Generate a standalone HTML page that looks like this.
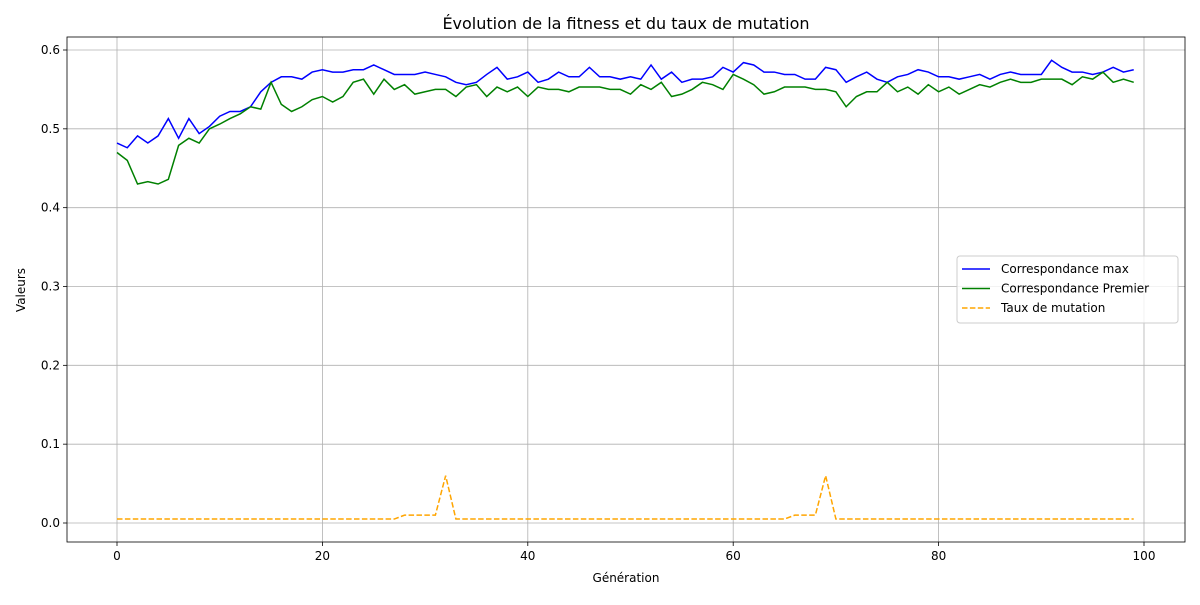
<!DOCTYPE html>
<html><head><meta charset="utf-8"><style>
body{margin:0;background:#fff;font-family:"Liberation Sans","DejaVu Sans",sans-serif}
</style></head><body>
<svg id="chart" width="1200" height="600" xmlns="http://www.w3.org/2000/svg" font-family="DejaVu Sans, Liberation Sans, sans-serif"></svg>
<script>
const generations = Array.from({length:100},(_,i)=>i);
const maxFit = [.482,.476,.491,.482,.491,.513,.488,.513,.494,.503,.516,.522,.522,.528,.547,.559,.566,.566,.563,.572,.575,.572,.572,.575,.575,.581,.575,.569,.569,.569,.572,.569,.566,.559,.556,.559,.569,.578,.563,.566,.572,.559,.563,.572,.566,.566,.578,.566,.566,.563,.566,.563,.581,.563,.572,.559,.563,.563,.566,.578,.572,.584,.581,.572,.572,.569,.569,.563,.563,.578,.575,.559,.566,.572,.563,.559,.566,.569,.575,.572,.566,.566,.563,.566,.569,.563,.569,.572,.569,.569,.569,.587,.578,.572,.572,.569,.572,.578,.572,.575];
const firstFit = [.470,.460,.430,.433,.430,.436,.479,.488,.482,.500,.506,.513,.519,.528,.525,.559,.531,.522,.528,.537,.541,.534,.541,.559,.563,.544,.563,.550,.556,.544,.547,.550,.550,.541,.553,.556,.541,.553,.547,.553,.541,.553,.550,.550,.547,.553,.553,.553,.550,.550,.544,.556,.550,.559,.541,.544,.550,.559,.556,.550,.569,.563,.556,.544,.547,.553,.553,.553,.550,.550,.547,.528,.541,.547,.547,.559,.547,.553,.544,.556,.547,.553,.544,.550,.556,.553,.559,.563,.559,.559,.563,.563,.563,.556,.566,.563,.572,.559,.563,.559];
const mutation = [.005,.005,.005,.005,.005,.005,.005,.005,.005,.005,.005,.005,.005,.005,.005,.005,.005,.005,.005,.005,.005,.005,.005,.005,.005,.005,.005,.005,.01,.01,.01,.01,.06,.005,.005,.005,.005,.005,.005,.005,.005,.005,.005,.005,.005,.005,.005,.005,.005,.005,.005,.005,.005,.005,.005,.005,.005,.005,.005,.005,.005,.005,.005,.005,.005,.005,.01,.01,.01,.06,.005,.005,.005,.005,.005,.005,.005,.005,.005,.005,.005,.005,.005,.005,.005,.005,.005,.005,.005,.005,.005,.005,.005,.005,.005,.005,.005,.005,.005,.005];
const xTicks = [0,20,40,60,80,100];
const yTicks = [0,0.1,0.2,0.3,0.4,0.5,0.6];
const NS="http://www.w3.org/2000/svg";
const svg=document.getElementById('chart');
const L=67,R=1185,T=37,B=542;
const X=v=>117+(v/100)*(1144-117);
const Y=v=>523-(v/0.6)*(523-50);
function mk(tag,attrs,parent){const e=document.createElementNS(NS,tag);for(const k in attrs)e.setAttribute(k,attrs[k]);(parent||svg).appendChild(e);return e;}
const grid=mk('g',{});


xTicks.forEach(t=>{mk('line',{x1:X(t),x2:X(t),y1:T,y2:B,stroke:'#b0b0b0','stroke-width':0.8},grid);
 mk('line',{x1:X(t),x2:X(t),y1:B,y2:B+4,stroke:'#000','stroke-width':0.8});
 const tx=mk('text',{x:X(t),y:B+18,'text-anchor':'middle','font-size':12});tx.textContent=t;
 
 });
yTicks.forEach(t=>{mk('line',{x1:L,x2:R,y1:Y(t),y2:Y(t),stroke:'#b0b0b0','stroke-width':0.8},grid);
 mk('line',{x1:L-4,x2:L,y1:Y(t),y2:Y(t),stroke:'#000','stroke-width':0.8});
 const tx=mk('text',{x:L-7,y:Y(t)+4,'text-anchor':'end','font-size':12});tx.textContent=t.toFixed(1);
 
 });
function series(vals,color,dash,name){const p=mk('polyline',{points:vals.map((v,i)=>X(generations[i])+','+Y(v)).join(' '),fill:'none',stroke:color,'stroke-width':1.5});
 if(dash)p.setAttribute('stroke-dasharray',dash);
 
 }
series(maxFit,'#0000ff',null,'line-max-fitness');
series(firstFit,'#008000',null,'line-first-fitness');
series(mutation,'#ffa500','5.5,2.4','line-mutation-rate');
const frame=mk('rect',{x:L,y:T,width:R-L,height:B-T,fill:'none',stroke:'#000','stroke-width':0.8});


const title=mk('text',{x:626,y:29,'text-anchor':'middle','font-size':16});title.textContent='Évolution de la fitness et du taux de mutation';


const xl=mk('text',{x:626,y:582,'text-anchor':'middle','font-size':12});xl.textContent='Génération';


const yl=mk('text',{x:25,y:290,'text-anchor':'middle','font-size':12,transform:'rotate(-90 25 290)'});yl.textContent='Valeurs';


const lg=mk('g',{});


mk('rect',{x:957,y:256,width:221,height:67,rx:3,fill:'#fff','fill-opacity':0.8,stroke:'#ccc'},lg);
[['Correspondance max','#0000ff',null],['Correspondance Premier','#008000',null],['Taux de mutation','#ffa500','5.5,2.4']].forEach((e,i)=>{
 const y=269+i*19.5;
 const ln=mk('line',{x1:962,x2:990,y1:y,y2:y,stroke:e[1],'stroke-width':1.5},lg);
 if(e[2])ln.setAttribute('stroke-dasharray',e[2]);
 const tx=mk('text',{x:1001,y:y+4,'font-size':12},lg);tx.textContent=e[0];
 
 });
</script>
</body></html>
